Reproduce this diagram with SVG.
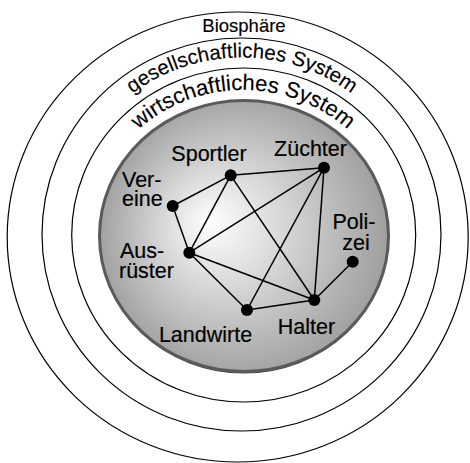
<svg xmlns="http://www.w3.org/2000/svg" width="470" height="463" viewBox="0 0 470 463">
  <defs>
    <radialGradient id="core" gradientUnits="userSpaceOnUse" cx="244" cy="236" r="150" fx="208" fy="222">
      <stop offset="0" stop-color="#ffffff"/>
      <stop offset="1" stop-color="#9c9c9c"/>
    </radialGradient>
    <path id="arcSociety" d="M 60 236 A 182 178.5 0 0 1 424 236"/>
    <path id="arcEconomy" d="M 90 236 A 153 146 0 0 1 396 236"/>
    <style>
      .ring { fill: none; stroke: #000; stroke-width: 1.2; }
      .core { fill: url(#core); stroke: #5a5a5a; stroke-width: 3; }
      .lbl { font-family: "Liberation Sans", Arial, sans-serif; font-size: 21.5px; fill: #000; stroke: #000; stroke-width: 0.2; }
      .ring-lbl { font-family: "Liberation Sans", Arial, sans-serif; font-size: 20.5px; fill: #000; stroke: #000; stroke-width: 0.15; }
      .edge { stroke: #000; stroke-width: 1.5; fill: none; }
      .dot { fill: #000; }
    </style>
  </defs>
  <rect width="470" height="463" fill="#fff"/>

  <!-- system rings -->
  <g id="biosphere">
    <ellipse class="ring" cx="237.7" cy="237" rx="230.5" ry="225"/>
    <text class="ring-lbl" x="244" y="32" text-anchor="middle" style="font-size:18.5px">Biosphäre</text>
  </g>
  <g id="society">
    <ellipse class="ring" cx="241.5" cy="234.5" rx="199.5" ry="196.5"/>
    <text class="ring-lbl"><textPath href="#arcSociety" startOffset="50%" text-anchor="middle">gesellschaftliches System</textPath></text>
  </g>
  <g id="economy">
    <ellipse class="ring" cx="243.7" cy="235" rx="172" ry="167"/>
    <text class="ring-lbl" style="font-size:22px"><textPath href="#arcEconomy" startOffset="50%" text-anchor="middle">wirtschaftliches System</textPath></text>
  </g>
  <g id="core-area">
    <ellipse cx="244" cy="237.5" rx="144.5" ry="136" fill="#444"/>
    <ellipse class="core" cx="244" cy="236" rx="144.5" ry="135.5"/>
  </g>

  <!-- relations between actors -->
  <g id="connectors">
    <line class="edge" x1="230.7" y1="175.3" x2="324" y2="167.7"/>
    <line class="edge" x1="230.7" y1="175.3" x2="172.7" y2="206"/>
    <line class="edge" x1="230.7" y1="175.3" x2="189.3" y2="252.7"/>
    <line class="edge" x1="230.7" y1="175.3" x2="314.3" y2="300"/>
    <line class="edge" x1="324" y1="167.7" x2="189.3" y2="252.7"/>
    <line class="edge" x1="324" y1="167.7" x2="247" y2="310"/>
    <line class="edge" x1="324" y1="167.7" x2="314.3" y2="300"/>
    <line class="edge" x1="172.7" y1="206" x2="189.3" y2="252.7"/>
    <line class="edge" x1="189.3" y1="252.7" x2="314.3" y2="300"/>
    <line class="edge" x1="189.3" y1="252.7" x2="247" y2="310"/>
    <line class="edge" x1="247" y1="310" x2="314.3" y2="300"/>
    <line class="edge" x1="314.3" y1="300" x2="352.7" y2="261.7"/>
  </g>

  <!-- actors -->
  <g id="sportler">
    <circle class="dot" cx="230.7" cy="175.3" r="6"/>
    <text class="lbl" x="209" y="161" text-anchor="middle">Sportler</text>
  </g>
  <g id="zuechter">
    <circle class="dot" cx="324" cy="167.7" r="6"/>
    <text class="lbl" x="310.5" y="156" text-anchor="middle">Züchter</text>
  </g>
  <g id="vereine">
    <circle class="dot" cx="172.7" cy="206" r="6"/>
    <text class="lbl" x="122" y="187">Ver-</text>
    <text class="lbl" x="122" y="206">eine</text>
  </g>
  <g id="ausruester">
    <circle class="dot" cx="189.3" cy="252.7" r="6"/>
    <text class="lbl" x="120" y="258.3">Aus-</text>
    <text class="lbl" x="119" y="277.7">rüster</text>
  </g>
  <g id="polizei">
    <circle class="dot" cx="352.7" cy="261.7" r="6"/>
    <text class="lbl" x="354" y="229" text-anchor="middle">Poli-</text>
    <text class="lbl" x="356" y="249.5" text-anchor="middle">zei</text>
  </g>
  <g id="halter">
    <circle class="dot" cx="314.3" cy="300" r="6"/>
    <text class="lbl" x="306.5" y="334" text-anchor="middle">Halter</text>
  </g>
  <g id="landwirte">
    <circle class="dot" cx="247" cy="310" r="6"/>
    <text class="lbl" x="205.5" y="342.3" text-anchor="middle">Landwirte</text>
  </g>
</svg>
